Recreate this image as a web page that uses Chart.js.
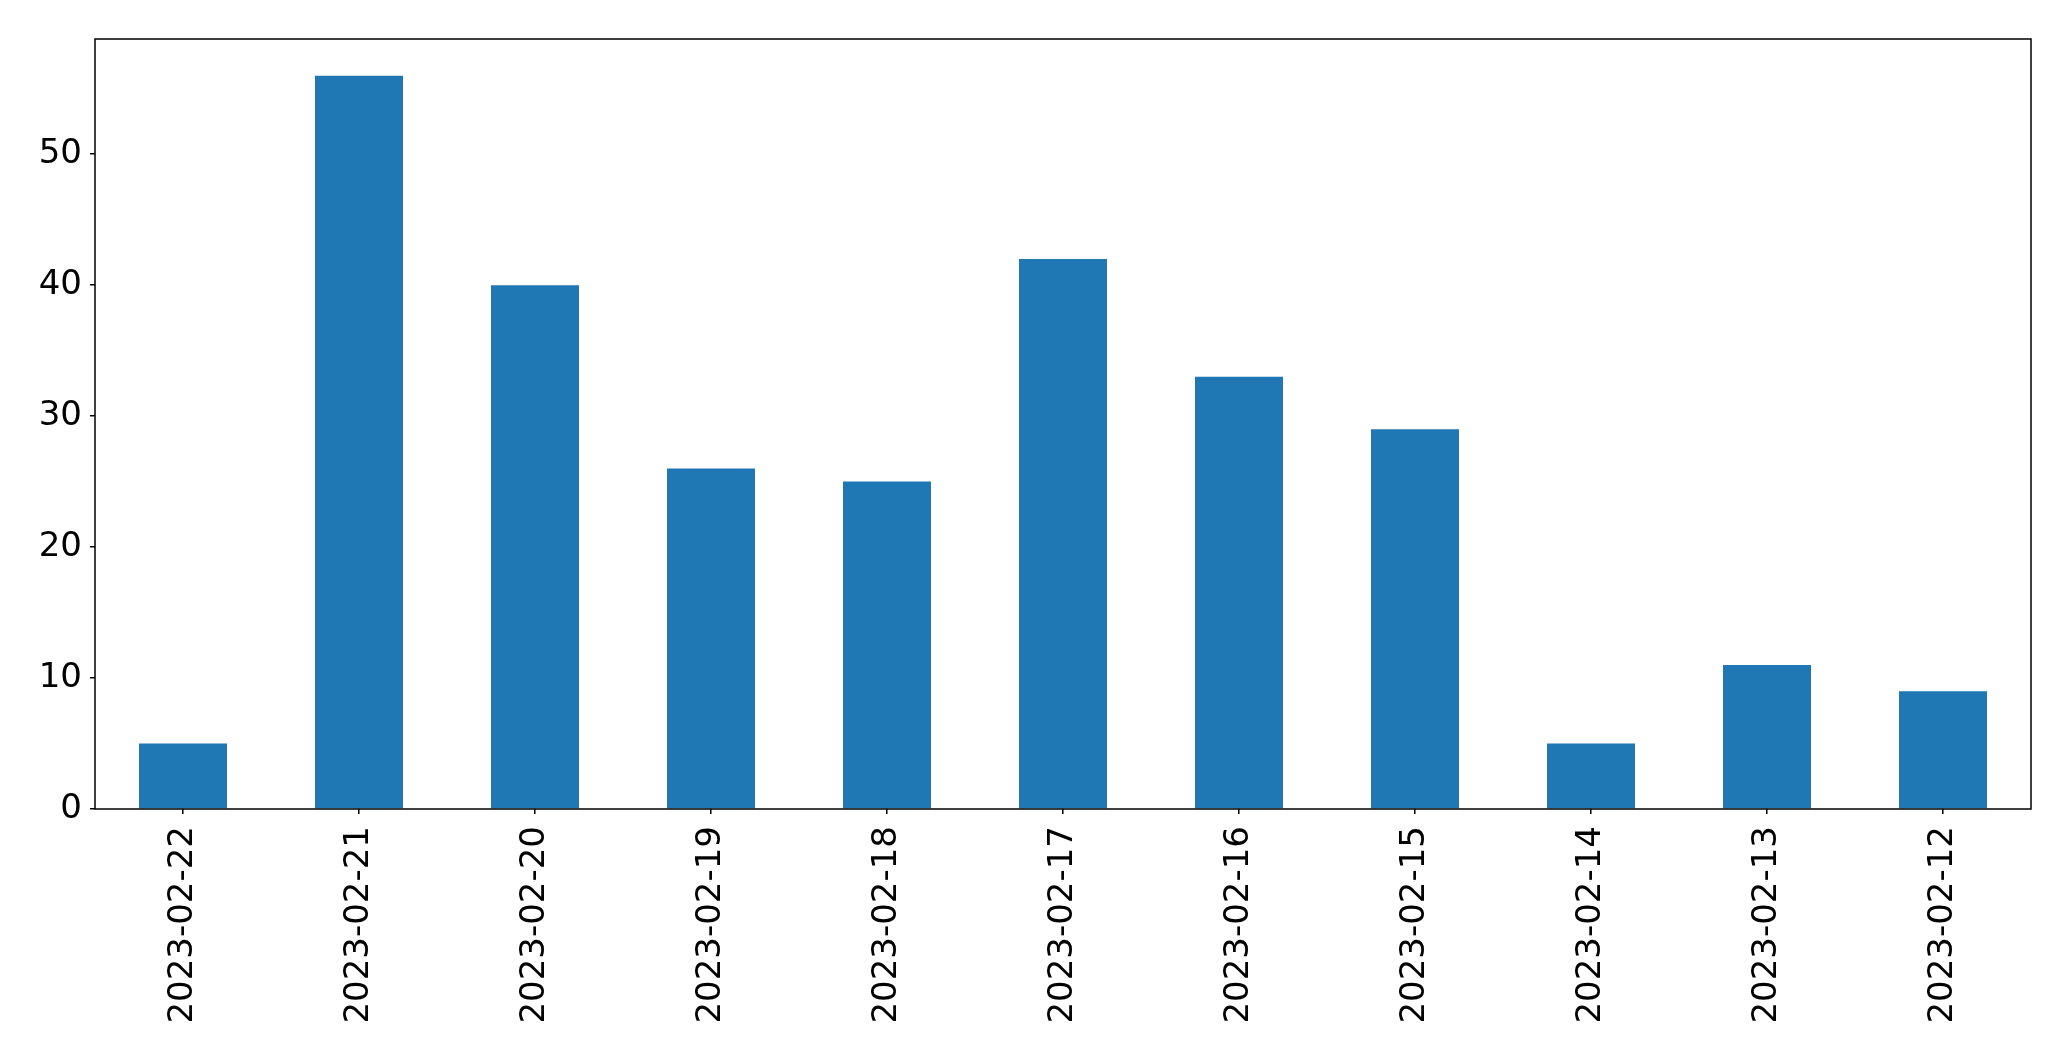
<!DOCTYPE html>
<html>
<head>
<meta charset="utf-8">
<script src="https://cdn.jsdelivr.net/npm/chart.js@4/dist/chart.umd.min.js"></script>
<style>
    body { margin: 0; background: #fff; }
    canvas { display: block; }
</style>
</head>
<body>
<canvas id="dateChart" width="2071" height="1061"></canvas>
<script>
const dates = ['2023-02-22', '2023-02-21', '2023-02-20', '2023-02-19', '2023-02-18', '2023-02-17',
    '2023-02-16', '2023-02-15', '2023-02-14', '2023-02-13', '2023-02-12'];
const counts = [5, 56, 40, 26, 25, 42, 33, 29, 5, 11, 9];
const yTicks = [0, 10, 20, 30, 40, 50];

// 축 테두리 (위/오른쪽 포함)
const frame = {
    id: 'frame',
    afterDraw(chart) {
        const { ctx, chartArea: a } = chart;
        ctx.save();
        ctx.strokeStyle = '#000';
        ctx.lineWidth = 1.5;
        ctx.strokeRect(a.left, a.top, a.right - a.left, a.bottom - a.top);
        ctx.restore();
    }
};

function createChart() {
    const ctx = document.getElementById('dateChart').getContext('2d');
    const font = { family: 'DejaVu Sans', size: 34 };
    new Chart(ctx, {
        type: 'bar',
        data: {
            labels: dates,
            datasets: [{
                data: counts,
                backgroundColor: '#1f77b4',
                borderWidth: 0,
                categoryPercentage: 1,
                barPercentage: 0.5,
            }]
        },
        options: {
            responsive: false,
            animation: false,
            layout: { padding: { left: 0, top: 39, right: 40, bottom: 0 } },
            plugins: {
                legend: { display: false },
                tooltip: { enabled: false },
            },
            scales: {
                x: {
                    offset: true,
                    grid: { offset: false, drawOnChartArea: false, drawTicks: true, tickLength: 5, color: '#000', lineWidth: 1.5 },
                    border: { display: false },
                    ticks: { color: '#000', font, minRotation: 90, maxRotation: 90, padding: 12, autoSkip: false },
                    afterFit(scale) { scale.height = 252; },
                },
                y: {
                    min: 0,
                    max: Math.max(...counts) * 1.05,
                    grid: { drawOnChartArea: false, drawTicks: true, tickLength: 5, color: '#000', lineWidth: 1.5 },
                    border: { display: false },
                    ticks: { color: '#000', font, stepSize: 10, includeBounds: false, padding: 8 },
                    afterBuildTicks(scale) { scale.ticks = yTicks.map(v => ({ value: v })); },
                    afterFit(scale) { scale.width = 95; },
                }
            }
        },
        plugins: [frame],
    });
}

createChart();
</script>
</body>
</html>
